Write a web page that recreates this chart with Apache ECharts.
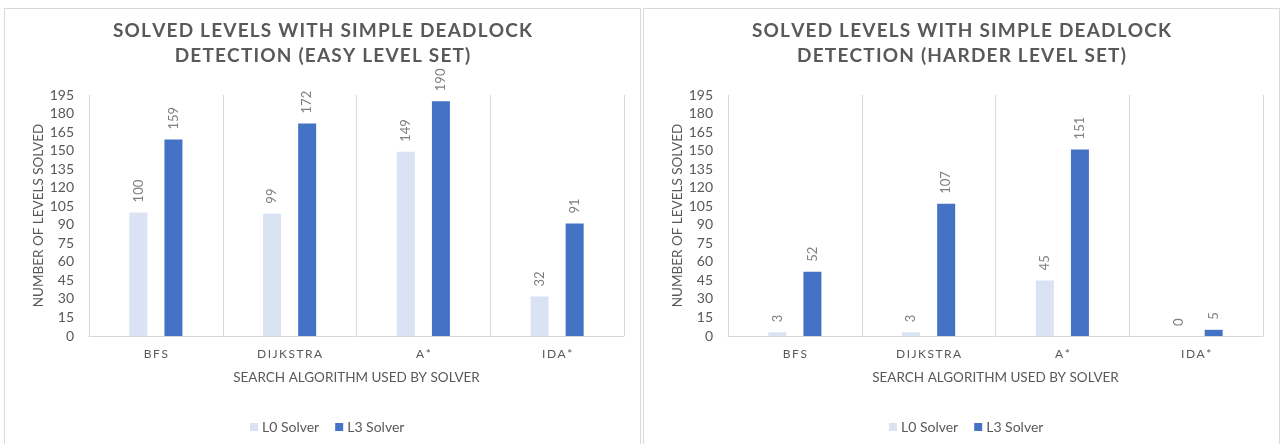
<!DOCTYPE html>
<html>
<head>
<meta charset="utf-8">
<script src="https://cdn.jsdelivr.net/npm/echarts@6/dist/echarts.min.js"></script>
<style>
	body { margin: 0; background: #fff; width: 1283px; height: 444px; overflow: hidden; position: relative; }
	.box { position: absolute; top: 8px; height: 450px; box-sizing: border-box; border: 1px solid #d9d9d9; background: #fff; }
	.chart { width: 100%; height: 100%; }
</style>
</head>
<body>
<div class="box" style="left:4px;width:637px;"><div id="chartEasy" class="chart"></div></div>
<div class="box" style="left:643px;width:637px;"><div id="chartHard" class="chart"></div></div>
<script>
var categories = ['BFS', 'DIJKSTRA', 'A*', 'IDA*'];
var seriesNames = ['L0 Solver', 'L3 Solver'];
var easyL0 = [100, 99, 149, 32];
var easyL3 = [159, 172, 190, 91];
var hardL0 = [3, 3, 45, 0];
var hardL3 = [52, 107, 151, 5];
var yMax = 195, yStep = 15;

var fontName = 'Lato, "Liberation Sans", sans-serif';
var txtColor = '#595959';

// fake letter spacing, zrender has none
function spaced(s, sep) {
	return s.split('').join(sep);
}

function makeOption(title, l0, l3) {
	return {
		animation: false,
		title: {
			text: spaced(title[0], '\u200a') + '\n' + spaced(title[1], '\u200a'),
			left: 'center',
			top: 4,
			textStyle: { fontFamily: fontName, fontSize: 19, fontWeight: 'bold', color: txtColor, lineHeight: 25 }
		},
		legend: {
			data: seriesNames,
			left: 245,
			top: 411,
			padding: 0,
			icon: 'rect',
			itemWidth: 8,
			itemHeight: 8,
			itemGap: 16,
			textStyle: { fontFamily: fontName, fontSize: 14, color: txtColor, padding: [0, 0, 0, -1] }
		},
		grid: { left: 84, top: 86, width: 535, height: 241 },
		xAxis: {
			type: 'category',
			data: categories,
			name: 'SEARCH ALGORITHM USED BY SOLVER',
			nameLocation: 'middle',
			nameGap: 35,
			nameTextStyle: { fontFamily: fontName, fontSize: 13.5, color: txtColor },
			axisLine: { lineStyle: { color: '#d9d9d9' } },
			axisTick: { show: false },
			axisLabel: {
				margin: 12,
				fontFamily: fontName, fontSize: 12, color: txtColor,
				formatter: function (v) { return spaced(v, '\u2009'); }
			},
			splitLine: { show: true, lineStyle: { color: '#d9d9d9' } }
		},
		yAxis: {
			type: 'value',
			min: 0,
			max: yMax,
			interval: yStep,
			name: 'NUMBER OF LEVELS SOLVED',
			nameLocation: 'middle',
			nameGap: 43,
			nameMoveOverlap: false,
			nameTextStyle: { fontFamily: fontName, fontSize: 13.5, color: txtColor },
			axisLine: { show: false },
			axisTick: { show: false },
			axisLabel: { margin: 15, fontFamily: fontName, fontSize: 14, color: txtColor },
			splitLine: { show: false }
		},
		series: [{
			name: seriesNames[0],
			type: 'bar',
			data: l0,
			barWidth: 18,
			barGap: '95%',
			itemStyle: { color: '#dae3f3' },
			label: {
				show: true, position: 'top', rotate: 90, distance: 10,
				align: 'left', verticalAlign: 'middle',
				fontFamily: fontName, fontSize: 13, color: '#7f7f7f'
			}
		}, {
			name: seriesNames[1],
			type: 'bar',
			data: l3,
			barWidth: 18,
			itemStyle: { color: '#4472c4' },
			label: {
				show: true, position: 'top', rotate: 90, distance: 10,
				align: 'left', verticalAlign: 'middle',
				fontFamily: fontName, fontSize: 13, color: '#7f7f7f'
			}
		}]
	};
}

var chartsList = [];
var chartEasy = echarts.init(document.getElementById('chartEasy'));
chartEasy.setOption(makeOption(['SOLVED LEVELS WITH SIMPLE DEADLOCK', 'DETECTION (EASY LEVEL SET)'], easyL0, easyL3));
chartsList.push(chartEasy);

var chartHard = echarts.init(document.getElementById('chartHard'));
chartHard.setOption(makeOption(['SOLVED LEVELS WITH SIMPLE DEADLOCK', 'DETECTION (HARDER LEVEL SET)'], hardL0, hardL3));
chartsList.push(chartHard);
</script>
</body>
</html>
